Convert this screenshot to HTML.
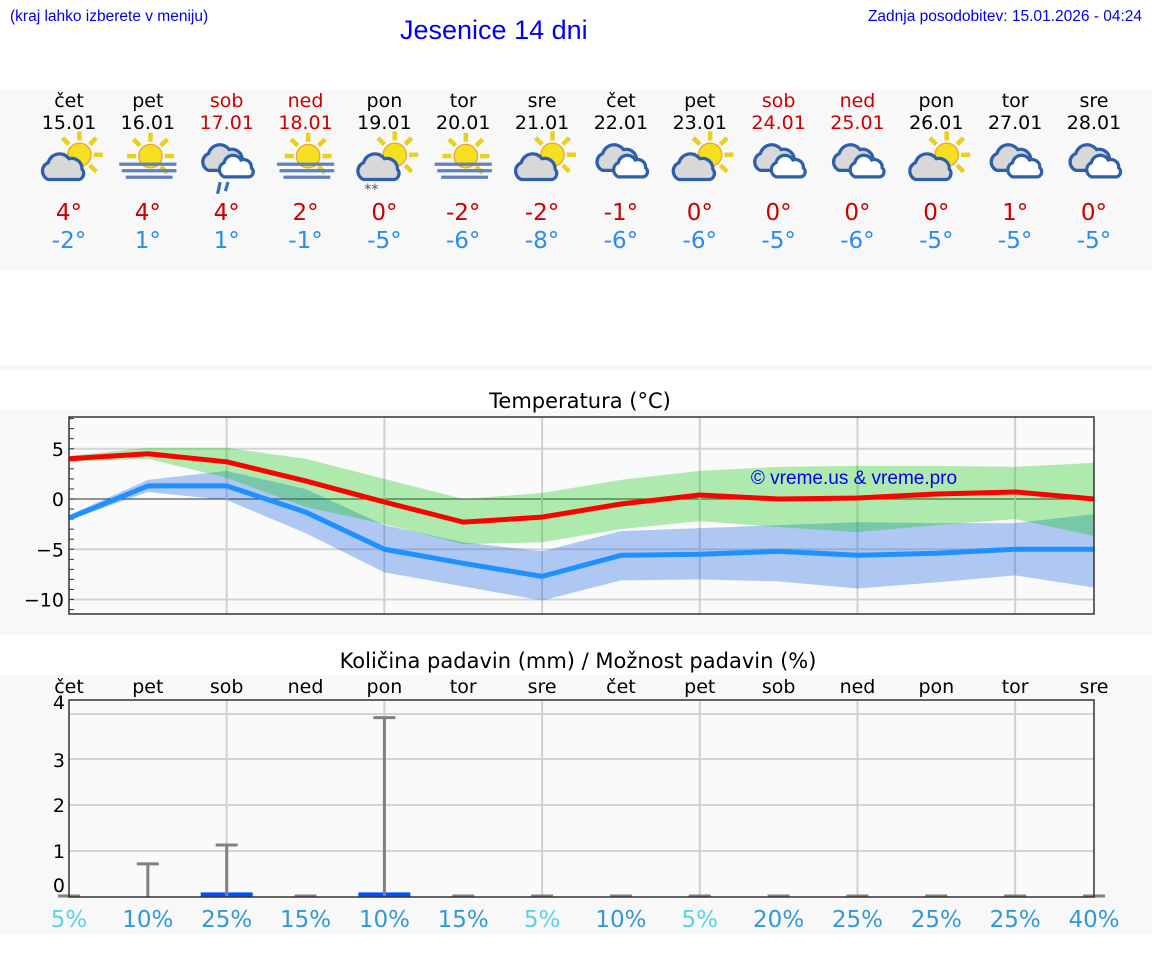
<!DOCTYPE html>
<html><head><meta charset="utf-8"><style>
html,body{margin:0;padding:0;background:#fff;}
svg{display:block;font-family:"DejaVu Sans","Liberation Sans",sans-serif;}
</style></head><body>
<svg id="c" width="1152" height="975" viewBox="0 0 1152 975">
<defs>
<g id="sun"><g stroke="#e8d020" stroke-width="3.5"><line x1="0" y1="-11" x2="0" y2="-18"/><line x1="8" y1="-8" x2="13" y2="-13"/><line x1="11" y1="0" x2="18" y2="0"/><line x1="8" y1="8" x2="13" y2="13"/><line x1="-8" y1="-8" x2="-13" y2="-13"/><line x1="-11" y1="0" x2="-18" y2="0"/></g><circle r="9" fill="#f4e020" stroke="#f0a030" stroke-width="1"/></g>
<g id="cloud"><path d="M-10,10 a7,7 0 0 1 0,-13 a9,9 0 0 1 16,-3 a8,8 0 0 1 10,8 a5,5 0 0 1 -2,8 z" fill="#d8d8d8" stroke="#2d5faa" stroke-width="2.5"/></g>
<g id="wcloud"><path d="M-6,10 a6,6 0 0 1 0,-11 a7,7 0 0 1 13,-2 a6,6 0 0 1 8,6 a4,4 0 0 1 -2,7 z" fill="#fff" stroke="#2d5faa" stroke-width="2.5"/></g>
</defs>
<rect x="0" y="90" width="1152" height="180" fill="#f8f8f8"/>
<rect x="0" y="365" width="1152" height="5" fill="#f6f6f6"/>
<rect x="0" y="410" width="1152" height="225" fill="#f8f8f8"/>
<rect x="0" y="675" width="1152" height="260" fill="#f8f8f8"/>
<text x="10" y="21" font-size="15.5" fill="#0000ee" font-family="Liberation Sans">(kraj lahko izberete v meniju)</text>
<text x="400" y="39" font-size="27" fill="#0000ee" font-family="Liberation Sans">Jesenice 14 dni</text>
<text x="1142" y="21" font-size="15.5" fill="#0000ee" text-anchor="end" font-family="Liberation Sans">Zadnja posodobitev: 15.01.2026 - 04:24</text>
<text x="580" y="408" font-size="21" text-anchor="middle" fill="#000">Temperatura (°C)</text>
<text x="578" y="668" font-size="21" text-anchor="middle" fill="#000">Količina padavin (mm) / Možnost padavin (%)</text>
<g id="layer"></g>
</svg>
<script>
const days=['čet','pet','sob','ned','pon','tor','sre','čet','pet','sob','ned','pon','tor','sre'];
const dates=['15.01','16.01','17.01','18.01','19.01','20.01','21.01','22.01','23.01','24.01','25.01','26.01','27.01','28.01'];
const weekend=[0,0,1,1,0,0,0,0,0,1,1,0,0,0];
const icons=['sc','fog','rain','fog','snow','fog','sc','cl','sc','cl','cl','sc','cl','cl'];
const maxT=[4,4,4,2,0,-2,-2,-1,0,0,0,0,1,0];
const minT=[-2,1,1,-1,-5,-6,-8,-6,-6,-5,-6,-5,-5,-5];
const maxLine=[4.0,4.5,3.7,1.8,-0.3,-2.3,-1.8,-0.5,0.4,0,0.1,0.5,0.7,0];
const maxHi=[4.3,5.1,5.1,4.0,2.0,0,0.6,1.9,2.8,3.2,3.3,3.3,3.2,3.6];
const maxLo=[3.7,4.0,2.1,-0.8,-2.5,-4.5,-4.3,-3.0,-2.2,-2.8,-3.3,-2.6,-2.0,-3.7];
const minLine=[-1.9,1.3,1.3,-1.3,-5.0,-6.4,-7.7,-5.6,-5.5,-5.2,-5.6,-5.4,-5.0,-5.0];
const minHi=[-1.6,1.9,2.8,1.0,-2.6,-4.3,-5.2,-3.2,-2.9,-2.6,-2.3,-2.4,-2.4,-1.5];
const minLo=[-2.1,0.7,-0.1,-3.4,-7.3,-8.7,-10.1,-8.1,-8.0,-8.2,-8.9,-8.3,-7.6,-8.8];
const tTicks=[5,0,-5,-10];
const precip=[0,0,0.1,0,0.1,0,0,0,0,0,0,0,0,0];
const precipMax=[0,0.72,1.13,0,3.9,0,0,0,0,0,0,0,0,0];
const chance=[5,10,25,15,10,15,5,10,5,20,25,25,25,40];
const pTicks=[1,2,3,4];

const NS='http://www.w3.org/2000/svg';
const L=document.getElementById('layer');
function mk(tag,at,parent){const e=document.createElementNS(NS,tag);for(const k in at)e.setAttribute(k,at[k]);(parent||L).appendChild(e);return e;}
const X0=69,X1=1094;
const xd=i=>X0+i*(X1-X0)/13;
const ty=v=>499-v*10.05;
const py=v=>897-v*46;

days.forEach((d,i)=>{
  const x=xd(i);const col=weekend[i]?'#cc0000':'#000';
  let t=mk('text',{x:x,y:107,'font-size':19,'text-anchor':'middle',fill:col});t.textContent=d;
  
  
  t=mk('text',{x:x,y:129,'font-size':19,'text-anchor':'middle',fill:col});t.textContent=dates[i];
  
  
  const g=mk('g',{transform:`translate(${x},160) scale(1.3)`});
  
  
  const ic=icons[i];
  if(ic==='sc'||ic==='snow'){mk('use',{href:'#sun',x:8,y:-4},g);mk('use',{href:'#cloud',x:-6,y:5},g);
    if(ic==='snow'){const s=mk('text',{x:-10,y:26,'font-size':11,fill:'#555','text-anchor':'middle'},g);s.textContent='**';}}
  if(ic==='fog'){mk('use',{href:'#sun',x:2,y:-3},g);
    [[-22,22,2],[-20,22,7],[-17,19,12]].forEach(f=>mk('rect',{x:f[0],y:f[2],width:f[1]-f[0],height:2.5,fill:'#6080c0'},g));}
  if(ic==='cl'||ic==='rain'){mk('use',{href:'#cloud',x:-4,y:-2},g);mk('use',{href:'#wcloud',x:4,y:3},g);
    if(ic==='rain'){mk('line',{x1:-5,y1:17,x2:-7,y2:26,stroke:'#4070b0','stroke-width':2.5},g);mk('line',{x1:1,y1:17,x2:-1,y2:24,stroke:'#4070b0','stroke-width':2.5},g);}}
  t=mk('text',{x:x,y:220,'font-size':23,'text-anchor':'middle',fill:'#cc0000'});t.textContent=maxT[i]+'°';
  
  
  t=mk('text',{x:x,y:248,'font-size':23,'text-anchor':'middle',fill:'#2a8cee'});t.textContent=minT[i]+'°';
  
  
});

let r=mk('rect',{x:X0,y:417,width:X1-X0,height:197,fill:'#fafafa'});


tTicks.forEach(v=>{mk('line',{x1:X0,x2:X1,y1:ty(v),y2:ty(v),stroke:v===0?'#555':'#d4d4d4','stroke-width':v===0?1.3:2});
  const t=mk('text',{x:64,y:ty(v)+7,'font-size':19,'text-anchor':'end',fill:'#000'});t.textContent=(v<0?'−'+(-v):v);
  
  });
for(let v=-11;v<=8;v++)mk('line',{x1:X0,x2:X0+5,y1:ty(v),y2:ty(v),stroke:'#333','stroke-width':1});
for(let i=2;i<13;i+=2)mk('line',{x1:xd(i),x2:xd(i),y1:417,y2:614,stroke:'#d0d0d0','stroke-width':2});
function band(hi,lo,fill,name){const pts=hi.map((v,i)=>xd(i)+','+ty(v)).concat(lo.map((v,i)=>xd(i)+','+ty(v)).reverse());
  const p=mk('polygon',{points:pts.join(' '),fill:fill});
  
  }
function line(a,col,name){const p=mk('polyline',{points:a.map((v,i)=>xd(i)+','+ty(v)).join(' '),fill:'none',stroke:col,'stroke-width':5,'stroke-linejoin':'round'});
  
  }
band(minHi,minLo,'rgba(0,85,230,0.3)','min-temp-band');
band(maxHi,maxLo,'rgba(0,200,0,0.3)','max-temp-band');
line(minLine,'#1e90ff','min-temp-line');
line(maxLine,'#ff0000','max-temp-line');
let t=mk('text',{x:854,y:484,'font-size':19,'text-anchor':'middle',fill:'#0000ee','font-family':'Liberation Sans'});t.textContent='© vreme.us & vreme.pro';


r=mk('rect',{x:X0,y:417,width:X1-X0,height:197,fill:'none',stroke:'#333','stroke-width':1.5});



r=mk('rect',{x:X0,y:700,width:X1-X0,height:197,fill:'#fafafa'});


pTicks.forEach(v=>{mk('line',{x1:X0,x2:X1,y1:py(v)+(v===4?1:0),y2:py(v)+(v===4?1:0),stroke:'#d4d4d4','stroke-width':2});});
[[4,709],[3,767],[2,812],[1,858],[0,892]].forEach(a=>{const tt=mk('text',{x:65,y:a[1],'font-size':19,'text-anchor':'end',fill:'#000'});tt.textContent=a[0];
  
  });
for(let i=2;i<13;i+=2)mk('line',{x1:xd(i),x2:xd(i),y1:700,y2:897,stroke:'#d0d0d0','stroke-width':2});
days.forEach((d,i)=>{const x=xd(i);
  let tt=mk('text',{x:x,y:693,'font-size':19,'text-anchor':'middle',fill:'#000'});tt.textContent=d;
  
  
  if(precip[i]>0){const b=mk('rect',{x:x-26,y:py(precip[i]),width:52,height:897-py(precip[i]),fill:'#0050ff'});
    
    }
  const g=mk('g',{stroke:'#808080','stroke-width':3});
  
  
  mk('line',{x1:x,x2:x,y1:897,y2:py(precipMax[i])},g);
  mk('line',{x1:x-11,x2:x+11,y1:py(precipMax[i])+(precipMax[i]>0?0:-1),y2:py(precipMax[i])+(precipMax[i]>0?0:-1)},g);
  tt=mk('text',{x:x,y:927,'font-size':23,'text-anchor':'middle',fill:chance[i]<=5?'#5ad3e6':'#3399d6'});tt.textContent=chance[i]+'%';
  
  
});
r=mk('rect',{x:X0,y:700,width:X1-X0,height:197,fill:'none',stroke:'#333','stroke-width':1.5});


</script>
</body></html>
